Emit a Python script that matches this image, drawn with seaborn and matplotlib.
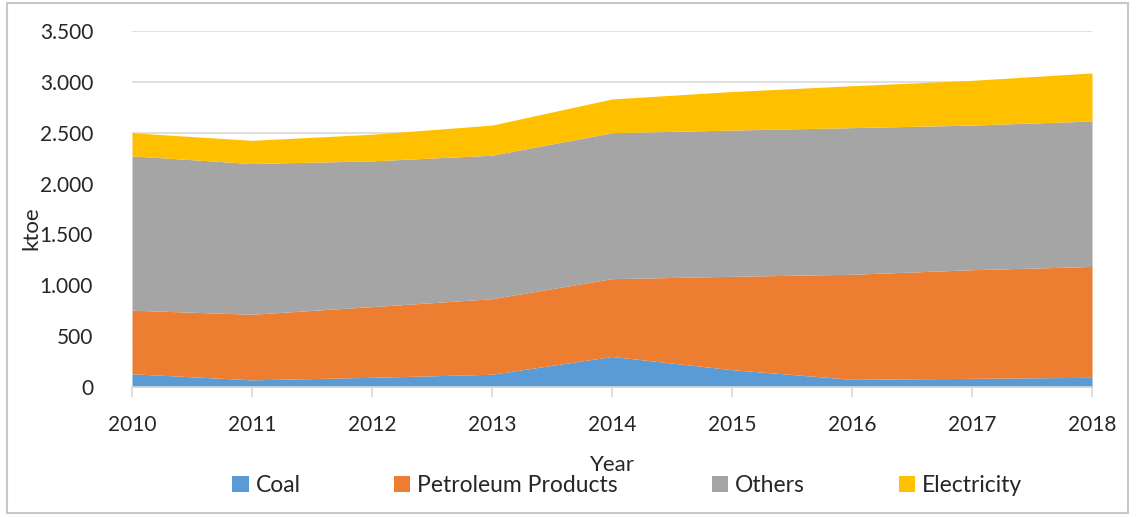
import numpy as np
import pandas as pd
import matplotlib
matplotlib.use('Agg')
import matplotlib.pyplot as plt
import seaborn as sns
from matplotlib.ticker import FuncFormatter, MultipleLocator
from matplotlib.patches import Rectangle, Patch

years = [2010, 2011, 2012, 2013, 2014, 2015, 2016, 2017, 2018]
coal = [130, 70, 95, 125, 300, 170, 75, 85, 95]
petroleum = [625, 645, 695, 743, 765, 918, 1033, 1068, 1090]
others = [1517, 1482, 1433, 1411, 1435, 1438, 1442, 1422, 1430]
electricity = [228, 228, 262, 296, 332, 379, 412, 440, 473]

series_names = ['Coal', 'Petroleum Products', 'Others', 'Electricity']
colors = ['#5B9BD5', '#ED7D31', '#A5A5A5', '#FFC000']

df = pd.DataFrame({'Year': years, 'Coal': coal, 'Petroleum Products': petroleum,
                   'Others': others, 'Electricity': electricity})

sns.set_theme(style='white')
plt.rcParams['font.family'] = ['Lato', 'DejaVu Sans']
text_col = '#262626'

fig = plt.figure(figsize=(11.36, 5.17), dpi=100)
ax = fig.add_axes([0.1162, 0.2515, 0.8451, 0.6885])

ax.stackplot(df['Year'], [df[c] for c in series_names], colors=sns.color_palette(colors),
             labels=series_names, linewidth=0)

ax.set_xlim(2010, 2018)
ax.set_ylim(0, 3500)
ax.yaxis.set_major_locator(MultipleLocator(500))
ax.yaxis.set_major_formatter(FuncFormatter(lambda v, p: f"{v:,.0f}".replace(',', '.')))
ax.set_xticks(years)
ax.grid(axis='y', color='#d9d9d9', linewidth=1.2)
ax.set_axisbelow(True)

sns.despine(ax=ax, left=True, right=True, top=True)
ax.spines['bottom'].set_color('#d9d9d9')
ax.spines['bottom'].set_linewidth(1.2)
ax.tick_params(axis='x', length=7, color='#d9d9d9', width=1.2, labelsize=15,
               labelcolor=text_col, pad=13, bottom=True)
ax.tick_params(axis='y', length=0, labelsize=15, labelcolor=text_col, pad=28)

ax.set_xlabel('Year', fontsize=16, color=text_col)
ax.xaxis.set_label_coords(0.5, -0.19)
ax.set_ylabel('ktoe', fontsize=16, color=text_col)
ax.yaxis.set_label_coords(-0.094, 0.447)

handles = [Patch(facecolor=c, edgecolor='none') for c in colors]
fig.legend(handles, series_names, loc='center', bbox_to_anchor=(0.552, 0.06), ncol=4,
           frameon=False, fontsize=16.5, labelcolor=text_col, handlelength=0.7,
           handleheight=0.7, handletextpad=0.3, columnspacing=4.1)

fig.patches.append(Rectangle((0.006, 0.008), 0.987, 0.986, transform=fig.transFigure,
                             fill=False, edgecolor='#c8c8c8', linewidth=1.5))

fig.savefig('out.png', dpi=100)
